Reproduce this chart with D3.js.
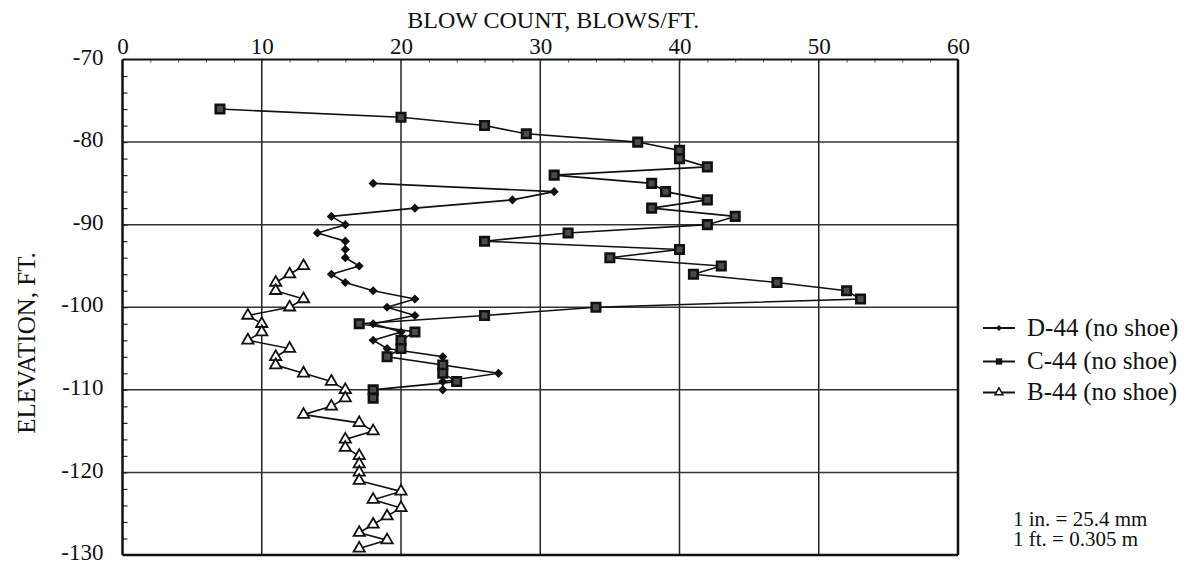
<!DOCTYPE html>
<html>
<head>
<meta charset="utf-8">
<script src="https://cdn.jsdelivr.net/npm/d3@7"></script>
<style>
  body { margin: 0; background: #fff; }
  svg text { font-family: "Liberation Serif", "Times New Roman", serif; fill: #111; }
</style>
</head>
<body>
<svg class="chart" width="1202" height="562"></svg>
<script>
// elevations (ft) and blow counts (blows/ft)
const dElev = [-85, -86, -87, -88, -89, -90, -91, -92, -93, -94, -95, -96, -97, -98, -99, -100, -101, -102, -103, -104, -105, -106, -107, -108, -109, -110];
const dBlows = [18, 31, 28, 21, 15, 16, 14, 16, 16, 16, 17, 15, 16, 18, 21, 19, 21, 18, 20, 18, 19, 23, 23, 27, 23, 23];

const cElev = [-76, -77, -78, -79, -80, -81, -82, -83, -84, -85, -86, -87, -88, -89, -90, -91, -92, -93, -94, -95, -96, -97, -98, -99, -100, -101, -102, -103, -104, -105, -106, -107, -108, -109, -110, -111];
const cBlows = [7, 20, 26, 29, 37, 40, 40, 42, 31, 38, 39, 42, 38, 44, 42, 32, 26, 40, 35, 43, 41, 47, 52, 53, 34, 26, 17, 21, 20, 20, 19, 23, 23, 24, 18, 18];

const bElev = [-95, -96, -97, -98, -99, -100, -101, -102, -103, -104, -105, -106, -107, -108, -109, -110, -111, -112, -113, -114, -115, -116, -117, -118, -119, -120, -121, -122.3, -123.3, -124.3, -125.3, -126.3, -127.3, -128.2, -129.2];
const bBlows = [13, 12, 11, 11, 13, 12, 9, 10, 10, 9, 12, 11, 11, 13, 15, 16, 16, 15, 13, 17, 18, 16, 16, 17, 17, 17, 17, 20, 18, 20, 19, 18, 17, 19, 17];

const xTicks = [0, 10, 20, 30, 40, 50, 60];
const yTicks = [-70, -80, -90, -100, -110, -120, -130];
const seriesNames = ['D-44 (no shoe)', 'C-44 (no shoe)', 'B-44 (no shoe)'];

makeChart();

function makeChart() {
    var svg = d3.select('.chart');

    var x = d3.scaleLinear().domain([0, 60]).range([122.5, 958]);
    var y = d3.scaleLinear().domain([-70, -130]).range([59.5, 555]);

    // grid
    svg.append('g')
        .selectAll('line')
        .data(xTicks.slice(1, -1))
        .enter().append('line')
        .attr('x1', d => x(d)).attr('x2', d => x(d))
        .attr('y1', y(-70)).attr('y2', y(-130))
        .attr('stroke', '#222').attr('stroke-width', 1.5);

    svg.append('g')
        .selectAll('line')
        .data(yTicks.slice(1, -1))
        .enter().append('line')
        .attr('x1', x(0)).attr('x2', x(60))
        .attr('y1', d => y(d)).attr('y2', d => y(d))
        .attr('stroke', '#333').attr('stroke-width', 1.5);

    // minor ticks pointing inwards
    svg.append('g')
        .attr('transform', 'translate(' + x(0) + ',0)')
        .call(d3.axisRight(y).tickValues(d3.range(-72, -130, -2)).tickSize(5).tickFormat(''))
        .call(g => g.select('.domain').remove())
        .selectAll('line').attr('stroke', '#222').attr('stroke-width', 1.2);

    svg.append('g')
        .attr('transform', 'translate(0,' + y(-70) + ')')
        .call(d3.axisBottom(x).tickValues(d3.range(2, 60, 2)).tickSize(3).tickFormat(''))
        .call(g => g.select('.domain').remove())
        .selectAll('line').attr('stroke', '#555').attr('stroke-width', 1);

    // frame
    svg.append('line')
        .attr('x1', x(0)).attr('x2', x(60)).attr('y1', y(-70)).attr('y2', y(-70))
        .attr('stroke', '#111').attr('stroke-width', 2);
    svg.append('line')
        .attr('x1', x(60)).attr('x2', x(60)).attr('y1', y(-70)).attr('y2', y(-130))
        .attr('stroke', '#111').attr('stroke-width', 2.5);
    svg.append('line')
        .attr('x1', x(0)).attr('x2', x(60)).attr('y1', y(-130)).attr('y2', y(-130))
        .attr('stroke', '#111').attr('stroke-width', 2.5);
    svg.append('line')
        .attr('x1', x(0)).attr('x2', x(0)).attr('y1', y(-70)).attr('y2', y(-130))
        .attr('stroke', '#111').attr('stroke-width', 2.5);

    // axis labels
    var xAxis = svg.append('g')
        .attr('transform', 'translate(0,' + y(-70) + ')')
        .call(d3.axisTop(x).tickValues(xTicks).tickSize(0).tickPadding(6).tickFormat(d => String(d)));
    xAxis.attr('font-family', null).attr('font-size', null);
    xAxis.select('.domain').remove();
    xAxis.selectAll('text')
        .style('font-family', '"Liberation Serif", serif')
        .style('font-size', '23px').attr('fill', '#111');

    var yAxis = svg.append('g')
        .attr('transform', 'translate(' + x(0) + ',0)')
        .call(d3.axisLeft(y).tickValues(yTicks).tickSize(0).tickPadding(19).tickFormat(d => String(d)));
    yAxis.attr('font-family', null).attr('font-size', null);
    yAxis.select('.domain').remove();
    yAxis.selectAll('text')
        .attr('dy', '0.2em')
        .style('font-family', '"Liberation Serif", serif')
        .style('font-size', '23px').attr('fill', '#111');

    svg.append('text')
        .attr('x', (x(0) + x(60)) / 2 + 13)
        .attr('y', 28)
        .attr('text-anchor', 'middle')
        .style('font-size', '24px')
        .text('BLOW COUNT, BLOWS/FT.');

    svg.append('text')
        .attr('transform', 'translate(35,343) rotate(-90)')
        .attr('text-anchor', 'middle')
        .style('font-size', '25px')
        .text('ELEVATION, FT.');

    // series
    var line = d3.line().x(d => x(d[1])).y(d => y(d[0]));
    var dData = d3.zip(dElev, dBlows);
    var cData = d3.zip(cElev, cBlows);
    var bData = d3.zip(bElev, bBlows);

    [dData, cData, bData].forEach(data => {
        svg.append('path')
            .datum(data)
            .attr('d', line)
            .attr('fill', 'none')
            .attr('stroke', '#111')
            .attr('stroke-width', 1.6);
    });

    var diamond = d3.symbol().type(d3.symbolSquare).size(42);
    var square = d3.symbol().type(d3.symbolSquare).size(72);
    var tri = d3.symbol().type(d3.symbolTriangle).size(55);

    svg.selectAll('.dmark')
        .data(dData)
        .enter().append('path')
        .attr('class', 'dmark')
        .attr('d', diamond)
        .attr('transform', d => 'translate(' + x(d[1]) + ',' + y(d[0]) + ') rotate(45)')
        .attr('fill', '#111');

    svg.selectAll('.cmark')
        .data(cData)
        .enter().append('path')
        .attr('class', 'cmark')
        .attr('d', square)
        .attr('transform', d => 'translate(' + x(d[1]) + ',' + y(d[0]) + ')')
        .attr('fill', '#4a4a4a')
        .attr('stroke', '#111')
        .attr('stroke-width', 2.6);

    svg.selectAll('.bmark')
        .data(bData)
        .enter().append('path')
        .attr('class', 'bmark')
        .attr('d', tri)
        .attr('transform', d => 'translate(' + x(d[1]) + ',' + y(d[0]) + ')')
        .attr('fill', '#fff')
        .attr('stroke', '#111')
        .attr('stroke-width', 1.8);

    // legend
    var legY = [328, 361.5, 392.5];
    var legMarks = [
        d3.symbol().type(d3.symbolSquare).size(18),
        d3.symbol().type(d3.symbolSquare).size(40),
        d3.symbol().type(d3.symbolTriangle).size(28)
    ];
    var leg = svg.append('g');
    seriesNames.forEach((name, i) => {
        var ly = legY[i];
        leg.append('line')
            .attr('x1', 983).attr('x2', 1015).attr('y1', ly).attr('y2', ly)
            .attr('stroke', '#111').attr('stroke-width', 2);
        leg.append('path')
            .attr('d', legMarks[i])
            .attr('transform', 'translate(999,' + ly + ')' + (i === 0 ? ' rotate(45)' : ''))
            .attr('fill', i === 2 ? '#fff' : '#111')
            .attr('stroke', '#111')
            .attr('stroke-width', i === 2 ? 1.5 : 0);
        leg.append('text')
            .attr('x', 1027)
            .attr('y', ly + 7.5)
            .style('font-size', '25px')
            .text(name);
    });

    svg.append('text')
        .attr('x', 1013).attr('y', 526)
        .style('font-size', '21px')
        .text('1 in. = 25.4 mm');
    svg.append('text')
        .attr('x', 1013).attr('y', 546)
        .style('font-size', '21px')
        .text('1 ft. = 0.305 m');
}
</script>
</body>
</html>
